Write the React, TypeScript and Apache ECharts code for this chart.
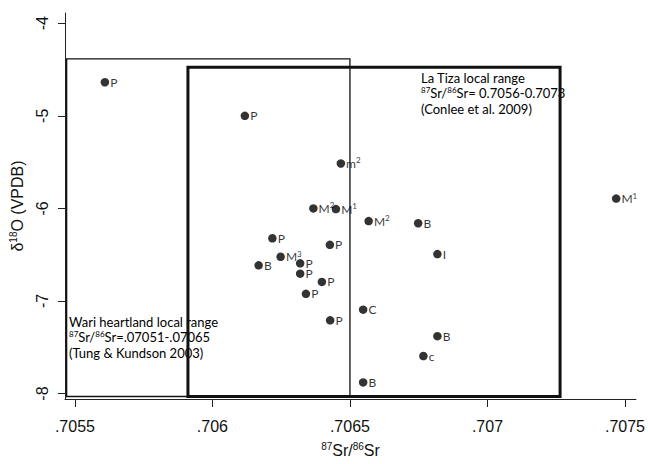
import React, { useEffect, useRef } from "react";
import * as echarts from "echarts";

// Sample labels, 87Sr/86Sr ratios and δ18O (VPDB) values
const sampleLabels = ["P", "P", "m²", "M²", "M¹", "M²", "B", "M¹", "P", "P", "I", "M³", "B", "P", "P", "P", "P", "C", "P", "B", "c", "B"];
const srRatio = [0.705609, 0.706118, 0.706467, 0.706367, 0.706449, 0.706568, 0.706748, 0.707468, 0.706218, 0.706427, 0.706818, 0.706248, 0.706168, 0.706319, 0.706319, 0.706398, 0.70634, 0.706548, 0.706428, 0.706818, 0.706767, 0.706548];
const d18O = [-4.637, -5.0, -5.515, -6.0, -6.008, -6.137, -6.16, -5.894, -6.323, -6.394, -6.494, -6.523, -6.615, -6.594, -6.705, -6.794, -6.923, -7.094, -7.209, -7.38, -7.595, -7.88];

// Local range boxes: [xFrom, xTo, yFrom, yTo, lineWidth]
const wariBox = [0.70547, 0.7065, -8.032, -4.386, 1.3];
const laTizaBox = [0.705911, 0.707264, -8.032, -4.476, 3];

// Axis ticks
const xTicks = [0.7055, 0.706, 0.7065, 0.707, 0.7075];
const xTickLabels = [".7055", ".706", ".7065", ".707", ".7075"];
const yTicks = [-8, -7, -6, -5, -4];
const yTickLabels = ["-8", "-7", "-6", "-5", "-4"];

const X_MIN = 0.705464;
const X_MAX = 0.70754;
const Y_MIN = -8.059;
const Y_MAX = -3.8895;

const supMap: Record<string, string> = { "¹": "1", "²": "2", "³": "3" };

export default function App() {
  const ref = useRef<HTMLDivElement>(null);
  useEffect(() => {
    if (!ref.current) return;
    const chart = echarts.init(ref.current, null, { renderer: "svg" });
    const tickFont = "'Liberation Sans', Arial, sans-serif";
    const annFont = "Lato, 'Noto Sans', sans-serif";
    const supStyle = { fontSize: 8, lineHeight: 10, verticalAlign: "top", fontFamily: annFont, fill: "#000", color: "#000" };
    const option: any = {
      animation: false,
      backgroundColor: "#fff",
      grid: { left: 65, right: 12, top: 13, bottom: 62.5, containLabel: false },
      xAxis: {
        type: "value",
        min: X_MIN,
        max: X_MAX,
        splitLine: { show: false },
        axisLine: { onZero: false, lineStyle: { color: "#222", width: 1 } },
        axisTick: { show: true, length: 8, customValues: xTicks, lineStyle: { color: "#222" } },
        axisLabel: {
          customValues: xTicks,
          margin: 19,
          color: "#111",
          fontFamily: tickFont,
          fontSize: 16,
          formatter: (v: number) => {
            const i = xTicks.findIndex((t) => Math.abs(t - v) < 1e-7);
            return i >= 0 ? xTickLabels[i] : "";
          },
        },
        name: "{sup|87}Sr/{sup|86}Sr",
        nameLocation: "middle",
        nameGap: 42,
        nameTextStyle: {
          color: "#111",
          fontFamily: tickFont,
          fontSize: 16,
          lineHeight: 18,
          rich: { sup: { fontSize: 10, lineHeight: 12, verticalAlign: "top", fontFamily: tickFont, color: "#111" } },
        },
      },
      yAxis: {
        type: "value",
        min: Y_MIN,
        max: Y_MAX,
        splitLine: { show: false },
        axisLine: { onZero: false, lineStyle: { color: "#222", width: 1 } },
        axisTick: { show: true, length: 7, customValues: yTicks, lineStyle: { color: "#222" } },
        axisLabel: {
          customValues: yTicks,
          rotate: 90,
          margin: 15,
          color: "#111",
          fontFamily: tickFont,
          fontSize: 16,
          formatter: (v: number) => {
            const i = yTicks.findIndex((t) => Math.abs(t - v) < 1e-7);
            return i >= 0 ? yTickLabels[i] : "";
          },
        },
        name: "δ{sup|18}O (VPDB)",
        nameLocation: "middle",
        nameRotate: 90,
        nameGap: 33,
        nameTextStyle: {
          color: "#111",
          fontFamily: tickFont,
          fontSize: 16,
          lineHeight: 18,
          rich: { sup: { fontSize: 10, lineHeight: 12, verticalAlign: "top", fontFamily: tickFont, color: "#111" } },
        },
      },
      graphic: [
        {
          type: "text",
          left: 421,
          top: 70,
          z: 1,
          style: {
            text: "La Tiza local range\n{sup|87}Sr/{sup|86}Sr= 0.7056-0.7073\n(Conlee et al. 2009)",
            fontFamily: annFont,
            fontSize: 13,
            lineHeight: 15.5,
            fill: "#000",
            rich: { sup: supStyle },
          },
        },
        {
          type: "text",
          left: 69,
          top: 314,
          z: 1,
          style: {
            text: "Wari heartland local range\n{sup|87}Sr/{sup|86}Sr=.07051-.07065\n(Tung & Kundson 2003)",
            fontFamily: annFont,
            fontSize: 13,
            lineHeight: 15.5,
            fill: "#000",
            rich: { sup: supStyle },
          },
        },
      ],
      series: [
        {
          type: "custom",
          z: 5,
          clip: false,
          silent: true,
          encode: { x: [0, 1], y: [2, 3] },
          data: [wariBox, laTizaBox],
          renderItem: (params: any, api: any) => {
            const p1 = api.coord([api.value(0), api.value(3)]);
            const p2 = api.coord([api.value(1), api.value(2)]);
            return {
              type: "rect",
              shape: { x: p1[0], y: p1[1], width: p2[0] - p1[0], height: p2[1] - p1[1] },
              style: { fill: "none", stroke: "#111", lineWidth: api.value(4) },
            };
          },
        },
        {
          type: "scatter",
          z: 6,
          symbol: "circle",
          symbolSize: 8.5,
          itemStyle: { color: "#000" },
          data: srRatio.map((x, i) => [x, d18O[i]]),
          label: {
            show: true,
            position: "right",
            distance: 1,
            color: "#000",
            fontFamily: annFont,
            fontSize: 12,
            lineHeight: 14,
            rich: {
              s: { fontSize: 8, lineHeight: 14, verticalAlign: "top", padding: [0, 0, 6, 0], fontFamily: annFont, color: "#000" },
            },
            formatter: (p: any) =>
              sampleLabels[p.dataIndex].replace(/[¹²³]/g, (c) => `{s|${supMap[c]}}`),
          },
        },
      ],
    };
    chart.setOption(option);
    return () => chart.dispose();
  }, []);
  return <div ref={ref} style={{ position: "fixed", left: 0, top: 0, width: 648, height: 464 }} />;
}
